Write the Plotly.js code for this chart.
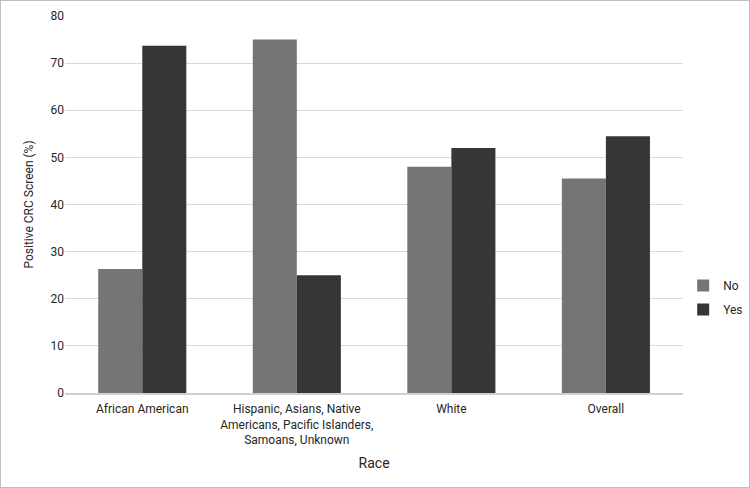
<!DOCTYPE html>
<html>
<head>
<meta charset="utf-8">
<script src="https://cdn.plot.ly/plotly-3.0.1.min.js"></script>
<style>
html,body{margin:0;padding:0;background:#fff;}
#chart{width:748px;height:486px;border:1px solid #bfbfbf;}
</style>
</head>
<body>
<div id="chart"></div>
<script>
const categories = ["African American", "Hispanic, Asians, Native<br>Americans, Pacific Islanders,<br>Samoans, Unknown", "White", "Overall"];
const noValues = [26.3, 75.0, 48.0, 45.5];
const yesValues = [73.7, 25.0, 52.0, 54.5];
const yTicks = [0, 10, 20, 30, 40, 50, 60, 70, 80];

const font = {family: "Roboto, 'Liberation Sans', sans-serif", size: 12, color: "#262626"};

const data = [
  {type: "bar", name: "No", legendgroup: "no", x: categories, y: noValues, marker: {color: "#757575"}},
  {type: "bar", name: "Yes", legendgroup: "yes", x: categories, y: yesValues, marker: {color: "#363636"}}
];

const layout = {
  width: 748, height: 486,
  margin: {l: 64, r: 63, t: 15, b: 94},
  paper_bgcolor: "#fff", plot_bgcolor: "#fff",
  font: font,
  barmode: "group",
  bargap: 0.43, bargroupgap: 0,
  showlegend: true,
  legend: {xref: "container", yref: "container", x: 0.912, xanchor: "left", y: 0.39, yanchor: "middle",
           font: {size: 12, color: "#262626"}, itemwidth: 30, tracegroupgap: 5, bgcolor: "rgba(0,0,0,0)"},
  xaxis: {
    title: {text: "Race", font: {size: 14, color: "#262626"}, standoff: 12},
    showgrid: false, showline: true, linecolor: "#d0d0d0", linewidth: 1.5,
    ticks: "", ticklabelstandoff: 4, tickfont: {size: 12, color: "#262626"}, automargin: false
  },
  yaxis: {
    title: {text: "Positive CRC Screen (%)", font: {size: 12, color: "#262626"}, standoff: 14},
    range: [0, 80], tickvals: yTicks, ticktext: yTicks.map(String),
    showgrid: true, gridcolor: "#d9d9d9", gridwidth: 1,
    zeroline: false, showline: false, ticks: "", tickfont: {size: 12, color: "#262626"},
    automargin: false
  }
};

Plotly.newPlot("chart", data, layout, {displayModeBar: false, staticPlot: true});
</script>
</body>
</html>
